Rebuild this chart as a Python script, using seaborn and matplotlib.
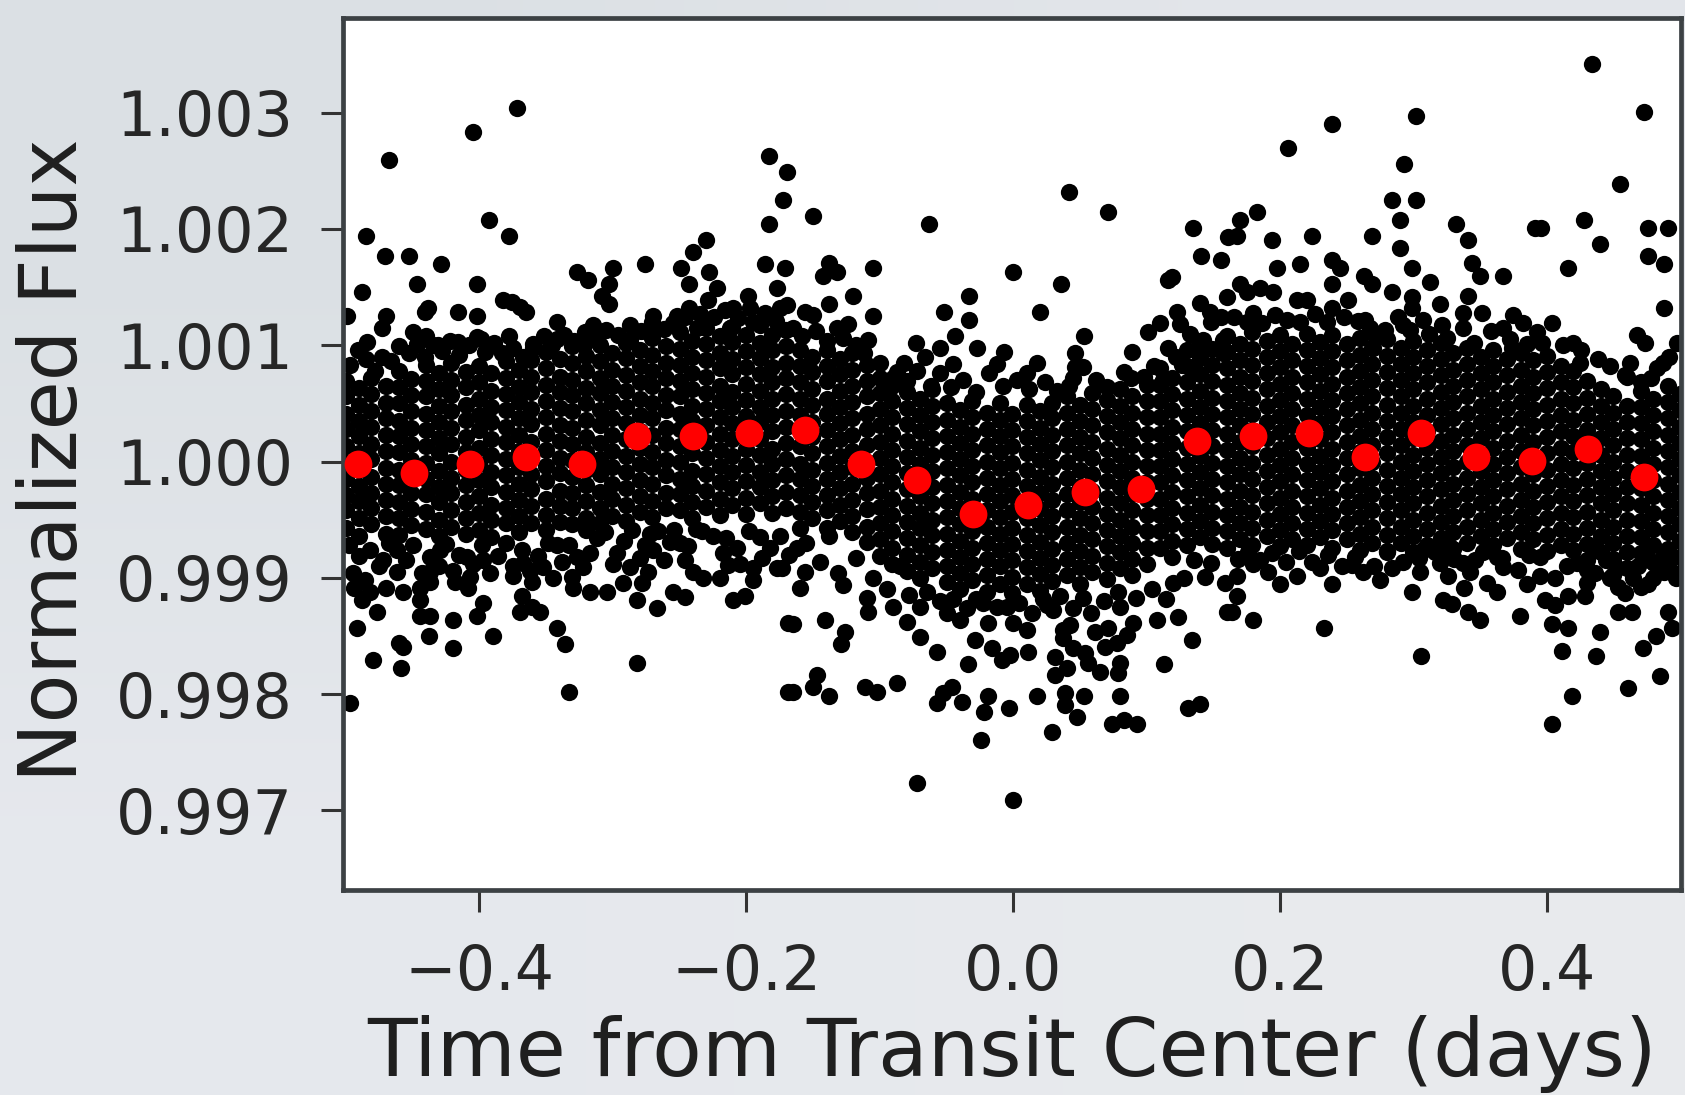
import numpy as np
import pandas as pd
import matplotlib
matplotlib.use('Agg')
import matplotlib.pyplot as plt
import seaborn as sns

# flux is kept as ppm away from 1.0
bin_time = [-.4909, -.4491, -.4072, -.3654, -.3235, -.2817, -.2398, -.1980, -.1561, -.1143, -.0724, -.0306,
            .0113, .0539, .0958, .1376, .1795, .2213, .2632, .3050, .3469, .3887, .4306, .4724]
bin_ppm = [-23, -97, -23, 42, -23, 217, 217, 245, 273, -23, -162, -448,
           -374, -263, -236, 180, 217, 245, 42, 245, 42, 5, 106, -134]

# scattered points above the band
upper_points = [
    (-.3716, 3037), (-.4045, 2831), (-.4674, 2590), (-.1831, 2627), (-.1698, 2487), (-.1723, 2249), (-.1831, 2040),
    (-.3928, 2077), (-.3776, 1936), (-.4852, 1936), (-.4704, 1764), (-.4527, 1764), (-.4285, 1695), (-.4465, 1523),
    (-.4018, 1523), (-.4882, 1455), (-.2997, 1661), (-.2759, 1695), (-.1863, 1695), (-.1711, 1661), (-.3271, 1627),
    (-.3184, 1558), (-.3026, 1523), (-.3084, 1420), (-.3026, 1351), (-.2305, 1905), (-.2397, 1799), (-.2492, 1661),
    (-.2430, 1523), (-.2280, 1627), (-.1773, 1489), (-.3826, 1389), (-.3758, 1374), (-.3696, 1331), (-.3653, 1283),
    (-.4382, 1317), (-.4410, 1283), (-.4702, 1251), (-.4732, 1145), (-.4989, 1251), (-.4158, 1283), (-.4018, 1251),
    (-.3416, 1202), (-.3151, 1174), (-.3209, 1116), (-.2697, 1251), (-.2522, 1251), (-.2430, 1317), (-.4844, 1030),
    (-.4495, 1116), (-.4400, 1082), (-.3776, 1082), (-.2222, 1489), (-.2285, 1389), (-.1985, 1420), (-.2098, 1317),
    (-.1973, 1317), (-.1748, 1317), (-.2372, 1145), (-.2123, 1145), (-.2734, 1116), (-.2872, 1045), (-.4160, 1030),
    (-.3990, 1050), (-.3416, 1050), (-.4310, 1000), (-.3600, 980),
    (-.1503, 2108), (-.0632, 2040), (.0414, 2315), (.0711, 2143), (.1343, 2005), (.1610, 1933), (-.1381, 1704),
    (-.1423, 1595), (-.1319, 1627), (-.1051, 1661), (-.0005, 1627), (.0354, 1523), (.1403, 1764), (.1553, 1730),
    (.1186, 1589), (.1161, 1561), (-.1201, 1420), (-.1381, 1351), (-.0332, 1420), (-.0517, 1283), (-.1051, 1251),
    (-.0332, 1217), (.0202, 1283), (-.1561, 1288), (-.1498, 1260), (-.1698, 1346), (-.1236, 1182), (-.1324, 1145),
    (-.1086, 1045), (-.0437, 1082), (.0532, 1082), (-.0729, 1016), (-.0549, 973), (-.0275, 973), (-.0662, 901),
    (-.0070, 944), (-.0125, 838), (.0175, 844), (-.0450, 838), (-.0819, 844), (-.0874, 772), (.0462, 930),
    (.0462, 815), (.0524, 815), (.0449, 715), (.0891, 944), (.0829, 772), (.0979, 729), (.1006, 1111), (.1098, 1188),
    (.1223, 1288), (.1248, 1182), (.1161, 973), (.1423, 1045), (.1398, 973), (.1261, 830), (.1361, 787), (.1398, 1360),
    (.1473, 1288), (.1553, 1245), (.1598, 1417), (.1573, 1045), (.1573, 930), (.0100, 758),
    (.4336, 3416), (.4723, 3003), (.3015, 2968), (.2389, 2900), (.2059, 2693), (.2925, 2556), (.4543, 2384),
    (.2833, 2246), (.3015, 2246), (.1822, 2143), (.1697, 2077), (.2895, 2074), (.3315, 2040), (.4276, 2074),
    (.3905, 2005), (.3950, 2005), (.4751, 2005), (.4900, 2005), (.1672, 1936), (.1939, 1902), (.2239, 1936),
    (.2688, 1936), (.3405, 1902), (.4394, 1868), (.2895, 1833), (.4751, 1764), (.4873, 1695), (.1972, 1661),
    (.2146, 1695), (.2389, 1733), (.2446, 1661), (.2983, 1661), (.3432, 1704), (.3495, 1595), (.3669, 1595),
    (.4154, 1661), (.2628, 1595), (.2688, 1523), (.3120, 1546), (.2389, 1523), (.1697, 1523), (.1847, 1489),
    (.1947, 1455), (.1747, 1455), (.2838, 1455), (.3405, 1420), (.4873, 1317), (.2121, 1389), (.2196, 1389),
    (.2508, 1389), (.2983, 1417), (.3195, 1354), (.1797, 1280), (.2384, 1317), (.2983, 1317), (.3370, 1274),
    (.3512, 1274), (.3744, 1260), (.3669, 1145), (.3819, 1188), (.3919, 1116), (.4031, 1188), (.2633, 1217),
    (.3070, 1217), (.2920, 1174), (.3370, 1145), (.3207, 1174), (.2708, 1088), (.2696, 973), (.3732, 973),
    (.4668, 1088), (.4730, 1016), (.4194, 1016), (.4244, 844), (.4618, 844), (.4593, 729), (.4968, 1016),
    (.4868, 844),
]

# the looser rim along the top of the band
upper_rim = [
    (-.497, 830), (-.491, 960), (-.485, 880), (-.478, 780), (-.473, 900), (-.466, 860), (-.460, 990), (-.453, 930),
    (-.447, 1010), (-.441, 900), (-.435, 1000), (-.428, 950), (-.422, 1040), (-.415, 920), (-.408, 1000), (-.402, 1070),
    (-.396, 940), (-.389, 1020), (-.383, 930), (-.375, 980), (-.367, 900), (-.360, 1010), (-.352, 1080), (-.346, 1000),
    (-.337, 1090), (-.329, 1040), (-.322, 1000), (-.313, 1080), (-.305, 1130), (-.296, 1090), (-.287, 1170), (-.279, 1120),
    (-.271, 1200), (-.262, 1140), (-.255, 1190), (-.246, 1240), (-.235, 1270), (-.224, 1240), (-.216, 1300), (-.206, 1230),
    (-.195, 1200), (-.186, 1280), (-.178, 1210), (-.165, 1150), (-.158, 1080), (-.148, 1120), (-.140, 1040), (-.128, 1060),
    (-.118, 1000), (-.112, 930), (-.100, 850), (-.090, 720), (-.080, 690), (-.072, 780), (-.062, 650), (-.055, 760),
    (-.047, 640), (-.038, 700), (-.028, 600), (-.018, 760), (-.008, 650), (.003, 700), (.012, 620), (.024, 680),
    (.033, 610), (.042, 650), (.062, 700), (.070, 640), (.088, 720), (.105, 820), (.112, 700), (.122, 900), (.132, 1100),
    (.148, 1200), (.165, 1240), (.175, 1200), (.186, 1190), (.196, 1260), (.205, 1220), (.215, 1200), (.226, 1270),
    (.235, 1200), (.248, 1240), (.258, 1210), (.267, 1150), (.278, 1130), (.288, 1240), (.297, 1130), (.311, 1100),
    (.325, 1060), (.345, 1020), (.358, 1120), (.372, 1050), (.385, 1010), (.396, 1020), (.412, 1000), (.425, 960),
    (.438, 880), (.447, 820), (.458, 740), (.470, 680), (.482, 800), (.491, 900), (.478, 720),
]

# scattered points below the band
lower_points = [
    (-.4969, -2080), (-.3329, -1980), (-.2822, -1736), (-.4587, -1779), (-.4794, -1707), (-.4570, -1593), (-.4600, -1560),
    (-.4195, -1607), (-.4377, -1501), (-.3898, -1501), (-.3359, -1570), (-.3416, -1429), (-.4914, -1429), (-.4764, -1294),
    (-.4195, -1363), (-.4018, -1326), (-.4445, -1326), (-.4370, -1326), (-.3696, -1294), (-.3546, -1294), (-.3608, -1249),
    (-.3683, -1157), (-.3970, -1220), (-.4445, -1191), (-.4882, -1191), (-.4819, -1120), (-.4702, -1085), (-.4570, -1120),
    (-.4445, -1085), (-.4370, -1033), (-.4370, -947), (-.4183, -1033), (-.4083, -1091), (-.4070, -990), (-.3746, -985),
    (-.3608, -1033), (-.3521, -904), (-.2822, -1191), (-.2672, -1260), (-.2547, -1120), (-.2460, -1162), (-.2460, -847),
    (-.2322, -1005), (-.2198, -1005), (-.2098, -1191), (-.2010, -1157), (-.1948, -919), (-.1948, -1019), (-.1773, -919),
    (-.1686, -1392), (-.1686, -1980), (-.3309, -990), (-.3296, -1091), (-.3171, -1120), (-.3047, -1120), (-.2922, -1048),
    (-.2784, -1048), (-.2734, -947), (-.3221, -904), (-.3171, -790), (-.2972, -790), (-.2872, -904), (-.2697, -761),
    (-.2572, -689), (-.2172, -790), (-.2135, -890), (-.2248, -641), (-.2073, -747), (-.1898, -646), (-.1823, -747),
    (-.3421, -718), (-.3546, -890), (-.4095, -818), (-.3970, -847), (-.4719, -847), (-.4944, -962), (-.3671, -876),
    (-.4295, -761), (-.4620, -761),
    (-.0724, -2768), (-.0005, -2911), (-.0245, -2395), (.0292, -2329), (-.1648, -1980), (-.1503, -1942), (-.1473, -1836),
    (-.1381, -2017), (-.1111, -1942), (-.1024, -1980), (-.0874, -1908), (-.0574, -2080), (-.0524, -1994), (-.0457, -1937),
    (-.0387, -2066), (-.0187, -2017), (-.0220, -2152), (-.0035, -2123), (.0175, -2017), (.0387, -1994), (.0387, -2094),
    (.0532, -2017), (.0474, -2195), (.0799, -2017), (.0741, -2260), (.0831, -2223), (.0924, -2260), (.1311, -2123),
    (.1398, -2086), (.1131, -1742), (.1341, -1535), (-.1648, -1398), (-.1411, -1363), (-.1261, -1463), (-.1291, -1570),
    (-.0699, -1507), (-.0574, -1636), (-.0337, -1742), (.0112, -1636), (-.0087, -1707), (-.0025, -1664), (-.0163, -1607),
    (-.0287, -1535), (.0312, -1679), (.0312, -1836), (.0404, -1779), (.0449, -1607), (.0537, -1650), (.0562, -1736),
    (.0649, -1808), (.0786, -1822), (.0799, -1736), (.0686, -1593), (.0774, -1564), (.0612, -1463), (.0711, -1435),
    (.0849, -1492), (.0899, -1392), (.1074, -1363), (.1236, -1335), (.0799, -1249), (.0374, -1449), (.0424, -1406),
    (.0374, -1521), (.0249, -1234), (.0444, -1263), (.0349, -1154), (-.0400, -1363), (-.0500, -1306), (-.0799, -1378),
    (-.0699, -1249), (-.1086, -1292), (-.1099, -1177), (-.0899, -1249), (-.1598, -1085), (-.1561, -947), (-.1623, -747),
    (-.1736, -919), (-.1311, -962), (-.0225, -1220), (-.0187, -1392), (-.0050, -1249), (.0100, -1449), (.0000, -1392),
    (.1435, -990), (.1585, -1048), (.1598, -1297), (.1198, -1048),
    (.4032, -2260), (.4186, -2017), (.4601, -1948), (.4843, -1845), (.3053, -1673), (.4106, -1627), (.4361, -1673),
    (.4718, -1607), (.4813, -1501), (.4935, -1432), (.4394, -1466), (.4154, -1432), (.4032, -1398), (.2329, -1432),
    (.1792, -1363), (.3794, -1329), (.3495, -1363), (.3407, -1297), (.3282, -1226), (.3220, -1191), (.4900, -1294),
    (.4531, -1297), (.4631, -1297), (.1634, -1297), (.2988, -1125), (.1672, -1157), (.3377, -1085), (.3620, -1125),
    (.1997, -1056), (.2389, -1056), (.2746, -1022), (.3844, -1056), (.3944, -985), (.3982, -1191), (.4056, -1234),
    (.4156, -1154), (.4281, -1154), (.4755, -1056), (.4531, -1076), (.4873, -953), (.1909, -953), (.2121, -985),
    (.1672, -985), (.1792, -884), (.2296, -919), (.3045, -953), (.3258, -985), (.3545, -1048), (.4294, -1048),
    (.2621, -947), (.2533, -890), (.2833, -919), (.4468, -1005), (.4643, -1005), (.3195, -876), (.3370, -876),
    (.3457, -847), (.3669, -904), (.3070, -761), (.4219, -876), (.4294, -933), (.4868, -818), (.4718, -790),
    (.3944, -818), (.3620, -818), (.3270, -732), (.4344, -761),
]

# the looser rim along the bottom of the band
lower_rim = [
    (-.498, -720), (-.490, -810), (-.482, -760), (-.475, -900), (-.468, -700), (-.462, -950), (-.455, -850), (-.450, -720),
    (-.443, -960), (-.437, -820), (-.430, -900), (-.425, -710), (-.420, -940), (-.415, -800), (-.405, -880), (-.398, -720),
    (-.392, -960), (-.386, -810), (-.380, -700), (-.375, -900), (-.368, -760), (-.362, -940), (-.356, -810), (-.349, -700),
    (-.345, -1000), (-.338, -860), (-.333, -720), (-.327, -820), (-.312, -660), (-.300, -880), (-.292, -680), (-.280, -830),
    (-.272, -620), (-.262, -850), (-.250, -700), (-.240, -950), (-.233, -600), (-.215, -660), (-.205, -880), (-.198, -600),
    (-.188, -830), (-.175, -640), (-.168, -800), (-.494, -1090), (-.486, -1020),
    (-.320, -590), (-.306, -610), (-.286, -590), (-.276, -720), (-.266, -600), (-.254, -590), (-.244, -730), (-.238, -580),
    (-.155, -700), (-.145, -860), (-.138, -640), (-.128, -1060), (-.118, -830), (-.105, -1000), (-.095, -1100), (-.085, -900),
    (-.078, -1150), (-.065, -1120), (-.055, -1200), (-.045, -1180), (-.035, -1260), (-.028, -1180), (-.012, -1250), (.004, -1220),
    (.014, -1300), (.022, -1180), (.030, -1280), (.052, -1170), (.058, -1300), (.068, -1200), (.078, -1120), (.092, -1170),
    (.104, -1100), (.114, -1180), (.128, -1000), (.135, -850), (.148, -870),
    (.168, -840), (.176, -780), (.185, -850), (.194, -790), (.204, -860), (.214, -770), (.224, -860), (.236, -800),
    (.246, -900), (.256, -820), (.270, -900), (.280, -780), (.292, -860), (.304, -830), (.316, -780), (.330, -840),
    (.342, -950), (.352, -780), (.366, -830), (.378, -930), (.386, -800), (.406, -1000), (.415, -900), (.436, -960),
    (.444, -850), (.452, -920), (.468, -900), (.480, -870), (.490, -900), (.496, -1000), (.458, -1130), (.470, -1080),
]

# the solid part of the band, one row per time column
core_time = [-.500, -.490, -.481, -.470, -.460, -.451, -.440, -.430, -.421, -.410, -.400, -.391, -.380, -.370, -.361,
             -.350, -.340, -.331, -.320, -.310, -.301, -.290, -.280, -.271, -.260, -.250, -.241, -.230, -.220, -.211,
             -.200, -.190, -.181, -.170, -.160, -.151, -.140, -.130, -.121, -.110, -.100, -.091, -.080, -.070, -.061,
             -.050, -.040, -.031, -.020, -.010, -.001, .010, .020, .029, .040, .050, .059, .070, .080, .089, .100,
             .110, .119, .130, .140, .149, .160, .170, .179, .190, .200, .209, .220, .230, .239, .250, .260, .269,
             .280, .290, .299, .310, .320, .329, .340, .350, .359, .370, .380, .389, .400, .410, .419, .430, .440,
             .449, .460, .470, .479, .490, .499]
core_ppm = [
    [690, 560, 410, 280, 130, -10, -150, -290, -420, -570],
    [630, 490, 350, 220, 70, -70, -210, -340, -490, -640],
    [720, 580, 430, 300, 150, 20, -130, -270, -400, -540],
    [650, 500, 370, 230, 90, -60, -190, -330, -470, -620],
    [780, 640, 500, 350, 220, 80, -70, -200, -350, -490, -630],
    [710, 570, 430, 290, 150, 10, -120, -270, -410, -550],
    [830, 690, 560, 410, 270, 130, -10, -150, -280, -430, -580],
    [760, 620, 480, 340, 200, 70, -80, -220, -350, -500, -640],
    [850, 700, 570, 430, 290, 150, 0, -140, -270, -420, -560],
    [770, 640, 490, 360, 210, 80, -70, -200, -350, -490, -620],
    [820, 680, 540, 400, 270, 120, -20, -160, -300, -440, -590],
    [760, 610, 470, 340, 190, 60, -90, -220, -370, -500, -650],
    [860, 720, 580, 440, 300, 170, 20, -120, -260, -400, -530],
    [790, 640, 510, 370, 230, 90, -50, -190, -330, -470, -610],
    [870, 730, 600, 450, 320, 170, 40, -110, -240, -380, -530],
    [940, 800, 660, 520, 380, 240, 100, -40, -170, -320, -460, -590],
    [880, 730, 600, 460, 310, 180, 30, -100, -250, -380, -520],
    [990, 850, 700, 570, 430, 290, 150, 10, -130, -270, -400, -540],
    [910, 780, 630, 500, 360, 210, 80, -70, -200, -340, -490],
    [1000, 860, 720, 590, 440, 310, 160, 20, -110, -260, -400, -530],
    [930, 790, 650, 510, 370, 230, 90, -50, -190, -320, -470],
    [1020, 890, 740, 610, 470, 330, 190, 50, -90, -230, -370, -510],
    [960, 820, 680, 540, 400, 260, 120, -20, -160, -300, -430],
    [1060, 920, 780, 650, 500, 370, 230, 80, -50, -190, -340, -480],
    [990, 850, 720, 570, 440, 290, 160, 10, -120, -270, -400],
    [1110, 970, 830, 690, 560, 410, 280, 130, 0, -150, -280, -420],
    [1040, 900, 760, 620, 480, 350, 200, 70, -80, -210, -350, -490],
    [1150, 1010, 870, 730, 590, 450, 310, 170, 30, -110, -250, -390],
    [1080, 930, 800, 650, 520, 380, 240, 100, -40, -180, -320, -460],
    [1160, 1030, 880, 750, 600, 470, 330, 190, 50, -90, -230, -370],
    [1090, 950, 810, 670, 530, 390, 250, 110, -30, -170, -310, -450],
    [1170, 1020, 890, 750, 610, 470, 340, 190, 60, -90, -220, -360],
    [1090, 960, 810, 680, 540, 400, 260, 110, -20, -160, -300, -440],
    [1130, 990, 850, 720, 580, 430, 300, 160, 20, -120, -260, -400],
    [960, 820, 680, 540, 400, 260, 130, -20, -150, -290, -430, -570],
    [900, 770, 620, 490, 340, 210, 70, -70, -210, -350, -490],
    [960, 820, 690, 540, 410, 270, 130, -10, -150, -290, -420, -570],
    [880, 750, 610, 470, 330, 190, 50, -90, -230, -370, -510],
    [930, 790, 650, 510, 370, 230, 90, -50, -190, -330, -470, -610],
    [830, 690, 560, 410, 280, 140, 0, -140, -270, -410, -560, -690],
    [720, 590, 450, 310, 170, 30, -110, -250, -390, -530, -670, -810],
    [650, 520, 380, 240, 100, -40, -180, -320, -460, -600, -740, -880],
    [600, 460, 320, 180, 40, -100, -240, -380, -520, -660, -800, -940],
    [540, 400, 260, 120, -20, -160, -300, -440, -570, -720, -860, -1000],
    [620, 480, 340, 200, 60, -80, -220, -360, -500, -630, -780, -920],
    [500, 360, 220, 80, -60, -200, -340, -480, -620, -760, -900, -1040],
    [440, 300, 160, 20, -120, -260, -400, -540, -680, -820, -960, -1100],
    [520, 380, 240, 100, -40, -180, -320, -460, -600, -740, -880, -1020],
    [420, 280, 140, 0, -140, -280, -420, -560, -700, -840, -980, -1120],
    [500, 360, 220, 80, -60, -200, -340, -480, -620, -760, -900, -1050],
    [410, 270, 130, -10, -150, -290, -430, -570, -710, -850, -990, -1130],
    [490, 350, 210, 70, -70, -210, -350, -490, -630, -770, -910, -1050],
    [430, 290, 150, 10, -130, -270, -410, -550, -690, -830, -970, -1110],
    [500, 370, 230, 90, -50, -190, -330, -470, -610, -750, -890, -1030],
    [560, 420, 280, 140, 0, -140, -280, -420, -560, -700, -840, -980],
    [490, 350, 210, 70, -70, -210, -350, -490, -630, -770, -910, -1050],
    [590, 450, 310, 170, 30, -110, -250, -390, -530, -670, -810, -950],
    [530, 390, 250, 110, -30, -170, -310, -450, -590, -730, -870, -1010],
    [620, 480, 340, 200, 60, -80, -220, -360, -500, -640, -780, -920],
    [560, 420, 280, 140, 0, -140, -280, -420, -560, -700, -840, -980],
    [660, 520, 380, 240, 100, -40, -180, -320, -460, -600, -740, -880],
    [800, 660, 520, 380, 240, 100, -40, -180, -320, -460, -600, -740],
    [720, 580, 440, 300, 160, 20, -120, -260, -400, -540, -680, -820],
    [960, 820, 680, 540, 400, 260, 120, -20, -160, -300, -440, -580, -720],
    [1030, 890, 750, 610, 470, 330, 190, 50, -90, -230, -370, -510, -650],
    [970, 830, 690, 550, 410, 270, 130, -10, -150, -290, -430, -570, -710],
    [1080, 940, 800, 660, 520, 380, 240, 100, -40, -180, -320, -460, -600, -740],
    [1010, 870, 730, 590, 450, 310, 170, 30, -110, -250, -390, -530, -670],
    [1110, 970, 830, 690, 550, 410, 270, 130, -10, -150, -290, -430, -570, -720],
    [1040, 900, 760, 620, 480, 340, 200, 60, -80, -220, -360, -500, -640],
    [1090, 950, 810, 670, 530, 390, 250, 110, -30, -170, -310, -450, -590, -730],
    [1010, 870, 730, 590, 450, 310, 170, 30, -110, -250, -390, -530, -670],
    [1100, 960, 820, 680, 540, 400, 260, 120, -20, -160, -300, -440, -580, -720],
    [1030, 890, 750, 610, 470, 330, 190, 50, -90, -230, -370, -510, -650],
    [1090, 950, 810, 670, 530, 390, 250, 110, -30, -170, -310, -450, -590, -740],
    [1010, 870, 730, 590, 450, 310, 170, 30, -110, -250, -390, -530, -670],
    [1060, 920, 780, 640, 500, 360, 220, 80, -60, -200, -340, -480, -620, -760],
    [980, 840, 700, 560, 420, 280, 140, 0, -140, -280, -420, -560, -700],
    [1050, 910, 770, 630, 490, 350, 210, 70, -70, -210, -350, -490, -630, -770],
    [980, 840, 700, 560, 420, 280, 140, 0, -140, -280, -420, -560, -700],
    [1040, 900, 760, 620, 480, 340, 200, 60, -80, -220, -360, -500, -640, -780],
    [960, 820, 680, 540, 400, 260, 120, -20, -160, -300, -440, -580, -720],
    [1020, 880, 740, 600, 460, 320, 180, 40, -100, -240, -380, -520, -660, -800],
    [930, 790, 650, 510, 370, 230, 90, -50, -190, -330, -470, -610, -750],
    [980, 840, 700, 560, 420, 280, 140, 0, -140, -280, -420, -560, -700],
    [900, 760, 620, 480, 340, 200, 60, -80, -220, -360, -500, -640],
    [960, 820, 680, 540, 400, 260, 120, -20, -160, -300, -440, -580, -720],
    [880, 740, 600, 460, 320, 180, 40, -100, -240, -380, -520, -660],
    [930, 790, 650, 510, 370, 230, 90, -50, -190, -330, -470, -610, -750],
    [870, 730, 590, 450, 310, 170, 30, -110, -250, -390, -530, -670],
    [910, 770, 630, 490, 350, 210, 70, -70, -210, -350, -490, -630, -770],
    [820, 680, 540, 400, 260, 120, -20, -160, -300, -440, -580, -720],
    [780, 640, 500, 360, 220, 80, -60, -200, -340, -480, -620, -760],
    [690, 550, 410, 270, 130, -10, -150, -290, -430, -570, -710, -850],
    [620, 480, 340, 200, 60, -80, -220, -360, -500, -640, -780],
    [560, 420, 280, 140, 0, -140, -280, -420, -560, -700, -840, -980],
    [480, 340, 200, 60, -80, -220, -360, -500, -640, -780, -920],
    [610, 470, 330, 190, 50, -90, -230, -370, -510, -650, -790],
    [540, 400, 260, 120, -20, -160, -300, -440, -580, -720, -860, -1000],
    [650, 510, 370, 230, 90, -50, -190, -330, -470, -610, -750],
    [580, 440, 300, 160, 20, -120, -260, -400, -540, -680, -820, -960],
    [780, 640, 500, 360, 220, 80, -60, -200, -340, -480, -620, -760],
]

y_ticks = [0.997, 0.998, 0.999, 1.000, 1.001, 1.002, 1.003]
y_labels = ['0.997', '0.998', '0.999', '1.000', '1.001', '1.002', '1.003']
x_ticks = [-0.4, -0.2, 0.0, 0.2, 0.4]
x_labels = ['\u22120.4', '\u22120.2', '0.0', '0.2', '0.4']

# pale backdrop of the slide, corner colours
bg_colors = [[[0.86, 0.88, 0.895], [0.89, 0.90, 0.92]],
             [[0.90, 0.91, 0.93], [0.91, 0.92, 0.93]]]

rows = [(t, v) for t, col in zip(core_time, core_ppm) for v in col]
rows += upper_points + upper_rim + lower_points + lower_rim
raw = pd.DataFrame(rows, columns=['time', 'ppm'])
raw['flux'] = 1 + raw['ppm'] * 1e-6
binned = pd.DataFrame({'time': bin_time, 'flux': 1 + np.array(bin_ppm) * 1e-6})

sns.set_theme(style='white')
fig = plt.figure(figsize=(16.85, 10.95), dpi=100)

bg = fig.add_axes([0, 0, 1, 1], zorder=0)
bg.imshow(bg_colors, aspect='auto', interpolation='bilinear')
bg.axis('off')

ax = fig.add_axes([343 / 1685, 1 - 890 / 1095, 1338 / 1685, 872 / 1095], zorder=1)
ax.set_facecolor('white')
sns.scatterplot(data=raw, x='time', y='flux', color='black', s=155, linewidth=0, ax=ax, zorder=2)
sns.scatterplot(data=binned, x='time', y='flux', color='red', s=400, linewidth=0, ax=ax, zorder=3)

ax.set_xlim(-0.5022, 0.5001)
ax.set_ylim(0.996315, 1.003814)
ax.set_xticks(x_ticks, x_labels)
ax.set_yticks(y_ticks, y_labels)
ax.tick_params(axis='both', length=16, width=2.2, color='#333333', labelsize=44.5,
               labelcolor='#262626', bottom=True, left=True)
ax.tick_params(axis='y', pad=20)
ax.tick_params(axis='x', pad=22)
ax.set_xlabel('Time from Transit Center (days)', fontsize=58.5, color='#1f1f1f', labelpad=9)
ax.set_ylabel('Normalized Flux', fontsize=57.5, color='#1f1f1f', labelpad=16, y=0.493)
for side in ax.spines.values():
    side.set_color('#3c4144')
    side.set_linewidth(3.4)

fig.savefig('out.png', dpi=100)
